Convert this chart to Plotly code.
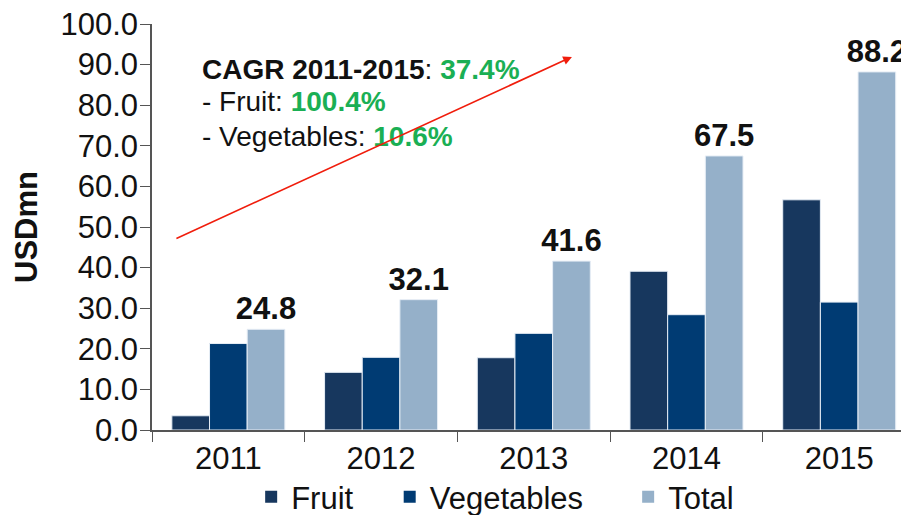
import plotly.graph_objects as go

years = ["2011", "2012", "2013", "2014", "2015"]
fruit = [3.5, 14.2, 17.8, 39.1, 56.7]
vegetables = [21.3, 17.9, 23.8, 28.4, 31.5]
total = [24.8, 32.1, 41.6, 67.5, 88.2]
y_ticks = [0, 10, 20, 30, 40, 50, 60, 70, 80, 90, 100]

FONT = "Arial, Liberation Sans, sans-serif"
GREEN = "#1aaf54"
INK = "#111111"
COLORS = {"Fruit": "#17375e", "Vegetables": "#003b73", "Total": "#95b0c9"}

# the page body adds an 8px margin, so the figure is 8px smaller than the window
fig = go.Figure()
edge = dict(color="#e6edf5", width=1)
fig.add_trace(go.Bar(x=years, y=fruit, name="Fruit", showlegend=False,
                     marker=dict(color=COLORS["Fruit"], line=edge)))
fig.add_trace(go.Bar(x=years, y=vegetables, name="Vegetables", showlegend=False,
                     marker=dict(color=COLORS["Vegetables"], line=edge)))
fig.add_trace(go.Bar(x=years, y=total, name="Total", showlegend=False,
                     marker=dict(color=COLORS["Total"], line=edge),
                     text=[f"{v:.1f}" for v in total], textposition="outside",
                     textfont=dict(family=FONT, size=31, color=INK),
                     texttemplate="<b>%{text}</b>", constraintext="none", cliponaxis=False))

# legend entries with larger square swatches, one legend each so spacing can match
legend_x = {"Fruit": 0.131, "Vegetables": 0.314, "Total": 0.629}
for i, name in enumerate(["Fruit", "Vegetables", "Total"]):
    fig.add_trace(go.Scatter(x=[None], y=[None], mode="markers", name=name,
                             legend="legend" if i == 0 else f"legend{i + 1}",
                             marker=dict(symbol="square", size=18, color=COLORS[name])))

cagr_lines = [
    ("<b>CAGR 2011-2015</b>: ", "37.4%", 0.887),
    ("- Fruit: ", "100.4%", 0.808),
    ("- Vegetables: ", "10.6%", 0.724),
]
for label, value, ypos in cagr_lines:
    fig.add_annotation(
        xref="paper", yref="paper", x=0.064, y=ypos, xanchor="left", yanchor="middle",
        showarrow=False, font=dict(family=FONT, size=28, color=INK),
        text=f"{label}<b><span style='color:{GREEN}'>{value}</span></b>",
    )

# red trend arrow
fig.add_annotation(
    x=2.25, y=91.9, ax=-0.35, ay=47.0, xref="x", yref="y", axref="x", ayref="y",
    text="", showarrow=True, arrowhead=2, arrowsize=1.1, arrowwidth=1.6,
    arrowcolor="#f01d0c",
)

legend_common = dict(orientation="h", y=-0.165, xanchor="left", yanchor="middle",
                     font=dict(family=FONT, size=31, color=INK), itemsizing="constant",
                     bgcolor="rgba(0,0,0,0)")
fig.update_layout(
    width=901, height=507,
    margin=dict(l=144, r=0, t=16, b=85, autoexpand=False),
    paper_bgcolor="white", plot_bgcolor="white",
    barmode="group", bargap=0.26, bargroupgap=0.0,
    font=dict(family=FONT, size=31, color=INK),
    legend=dict(x=legend_x["Fruit"], **legend_common),
    legend2=dict(x=legend_x["Vegetables"], **legend_common),
    legend3=dict(x=legend_x["Total"], **legend_common),
    xaxis=dict(
        range=[-0.5, 4.457], showline=True, linecolor="#555555", linewidth=1.5,
        ticks="outside", tickson="boundaries", ticklen=10, tickcolor="#555555",
        tickfont=dict(family=FONT, size=31, color=INK), showgrid=False,
        automargin=False, ticklabelstandoff=0,
    ),
    yaxis=dict(
        range=[0, 100], tickvals=y_ticks, tickformat=".1f", showline=True,
        linecolor="#555555", linewidth=1.5, ticks="outside", ticklen=10,
        tickcolor="#555555", showgrid=False, zeroline=False, automargin=False,
        tickfont=dict(family=FONT, size=31, color=INK), ticklabelstandoff=-4,
        ticklabeloverflow="allow",
        title=dict(text="<b>USDmn</b>", font=dict(family=FONT, size=31, color=INK),
                   standoff=14),
    ),
)

fig.write_html("out.html")
